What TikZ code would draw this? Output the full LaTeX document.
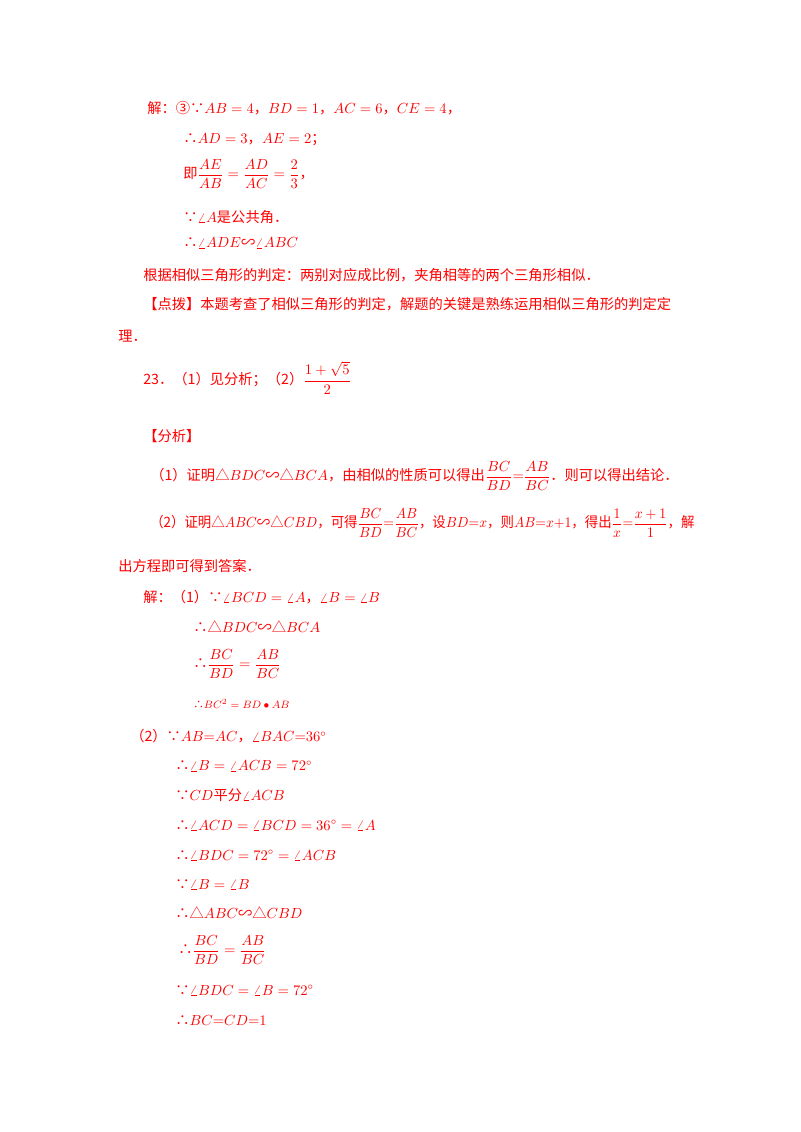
\documentclass[tikz,border=0pt]{standalone}
\usepackage{amsmath}
\usepackage{graphicx}
\usepackage{fontspec}
\setmainfont{Noto Sans CJK SC}
\begin{document}
\begin{tikzpicture}[x=0.75pt,y=-0.75pt,
  t/.style={anchor=west,inner sep=0pt,text=red,font=\fontsize{10.7}{12}\selectfont}]
\useasboundingbox (0,0) rectangle (800,1132);
\node[t] (l1) at (147,108) {解：③∵$AB=4$，$BD=1$，$AC=6$，$CE=4$，};
\node[t] (l2) at (183,140) {∴$AD=3$，$AE=2$；};
\node[t] (l3) at (183,174) {即$\dfrac{AE}{AB}=\dfrac{AD}{AC}=\dfrac{2}{3}$，};
\node[t] (l4) at (183,217) {∵$\angle A$是公共角．};
\node[t] (l5) at (183,243) {∴$\angle ADE$∽$\angle ABC$};
\node[t] (l6) at (143,275) {根据相似三角形的判定：两别对应成比例，夹角相等的两个三角形相似．};
\node[t] (l7) at (143,304) {【点拨】本题考查了相似三角形的判定，解题的关键是熟练运用相似三角形的判定定};
\node[t] (l8) at (118,336) {理．};
\node[t] (l9) at (143,378) {23．（1）见分析；（2）$\dfrac{1+\sqrt5}{2}$};
\node[t] (l10) at (143,436) {【分析】};
\node[t] (l11) at (150,476) {（1）证明△$BDC$∽△$BCA$，由相似的性质可以得出$\dfrac{BC}{BD}{=}\dfrac{AB}{BC}$．则可以得出结论．};
\node[t] (l12) at (150,523) {\scalebox{0.94}[1]{（2）证明△$ABC$∽△$CBD$，可得$\dfrac{BC}{BD}{=}\dfrac{AB}{BC}$，设$BD{=}x$，则$AB{=}x{+}1$，得出$\dfrac{1}{x}{=}\dfrac{x+1}{1}$，解}};
\node[t] (l13) at (118,566) {出方程即可得到答案．};
\node[t] (l14) at (143,597) {解：（1）∵$\angle BCD=\angle A$，$\angle B=\angle B$};
\node[t] (l15) at (193,627) {∴△$BDC$∽△$BCA$};
\node[t] (l16) at (193,664) {∴$\dfrac{BC}{BD}=\dfrac{AB}{BC}$};
\node[t,font=\fontsize{8}{9}\selectfont] (l17) at (193,704) {∴$BC^2=BD\bullet AB$};
\node[t] (l18) at (130,736) {（2）∵$AB{=}AC$，$\angle BAC{=}36^\circ$};
\node[t] (l19) at (175,766) {∴$\angle B=\angle ACB=72^\circ$};
\node[t] (l20) at (175,795) {∵$CD$平分$\angle ACB$};
\node[t] (l21) at (175,825) {∴$\angle ACD=\angle BCD=36^\circ=\angle A$};
\node[t] (l22) at (175,855) {∴$\angle BDC=72^\circ=\angle ACB$};
\node[t] (l23) at (175,884) {∵$\angle B=\angle B$};
\node[t] (l24) at (175,913) {∴△$ABC$∽△$CBD$};
\node[t] (l25) at (178,950) {∴$\dfrac{BC}{BD}=\dfrac{AB}{BC}$};
\node[t] (l26) at (175,990) {∵$\angle BDC=\angle B=72^\circ$};
\node[t] (l27) at (175,1020) {∴$BC{=}CD{=}1$};
\end{tikzpicture}
\end{document}
